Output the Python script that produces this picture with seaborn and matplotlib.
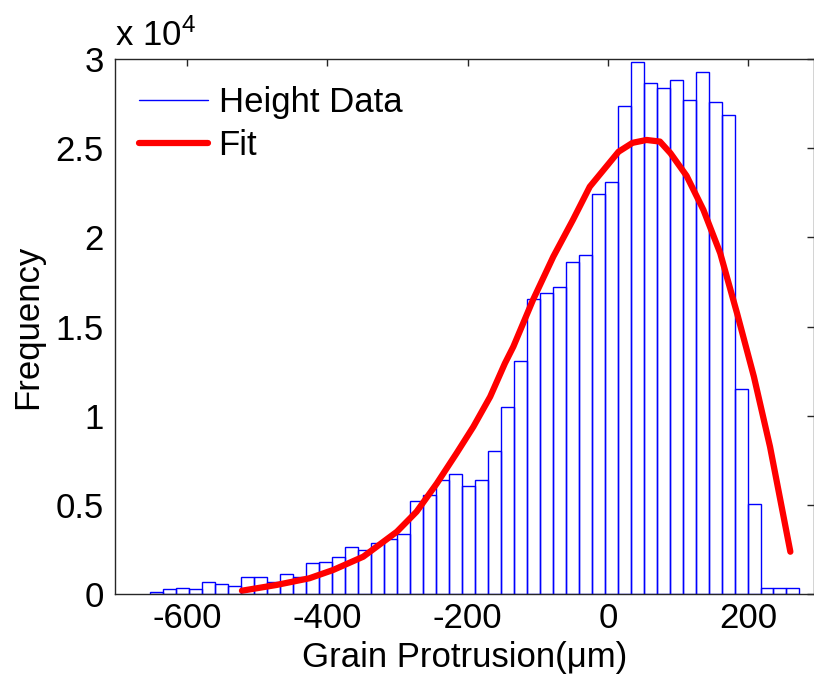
import numpy as np
import pandas as pd
import matplotlib
matplotlib.use("Agg")
import matplotlib.pyplot as plt
from matplotlib.lines import Line2D
from matplotlib.ticker import FuncFormatter
import seaborn as sns

# histogram: 50 equal bins
bin_start = -653.0
bin_width = 18.52
counts = [100, 260, 355, 260, 690, 540, 450, 950, 950, 690,
          1140, 950, 1720, 1795, 2075, 2655, 2470, 2840, 3065, 3345,
          5235, 5550, 6390, 6750, 6060, 6390, 8020, 10500, 13050, 16560,
          16900, 17235, 18620, 19030, 22430, 23120, 27385, 29850, 28670, 28390,
          28825, 27700, 29255, 27570, 26860, 11515, 5050, 355, 355, 355]

# fitted curve, points
fit_x = [-522, -473, -426, -392, -349, -301, -273, -244, -216, -192, -168,
         -147, -135, -107, -78, -50, -26, 15, 35, 55, 74, 89, 112, 136,
         160, 184, 208, 231, 260]
fit_y = [185, 505, 880, 1346, 2092, 3494, 4615, 6206, 7890, 9380, 11065,
         12935, 13870, 16490, 18920, 20980, 22840, 24800, 25300, 25460, 25370,
         24720, 23450, 21540, 19110, 15740, 12190, 8260, 2370]

x_ticks = [-600, -400, -200, 0, 200]
y_ticks = [0, 5000, 10000, 15000, 20000, 25000, 30000]

sns.set_style("white")
plt.rcParams['font.family'] = ['Liberation Sans', 'DejaVu Sans']
plt.rcParams['mathtext.default'] = 'regular'
plt.rcParams['axes.unicode_minus'] = False
plt.rcParams['text.color'] = 'black'
plt.rcParams['axes.labelcolor'] = 'black'

n_bins = len(counts)
edges = list(bin_start + bin_width * np.arange(n_bins + 1))
hist_df = pd.DataFrame({
    'center': [(edges[i] + edges[i + 1]) / 2 for i in range(n_bins)],
    'count': counts,
})

fig = plt.figure(figsize=(8.14, 6.8), dpi=100)
ax = fig.add_axes([115 / 814, 1 - 594 / 680, 698.5 / 814, 535 / 680])

sns.histplot(data=hist_df, x='center', weights='count', bins=edges,
             element='bars', fill=False, color='#0000ff', linewidth=1.0, ax=ax)
sns.lineplot(x=fit_x, y=fit_y, color='#ff0000', linewidth=4.5, ax=ax)

ax.set_xlim(-703, 293)
ax.set_ylim(0, 30000)
ax.set_xticks(x_ticks)
ax.set_yticks(y_ticks)
ax.yaxis.set_major_formatter(FuncFormatter(lambda v, p: f"{v / 1e4:g}"))

fs = 25
ax.tick_params(direction='in', length=5, width=1, colors='#262626',
               labelsize=fs, top=True, right=True, labelcolor='black')
ax.tick_params(axis='x', pad=6)
ax.tick_params(axis='y', pad=8)
for s in ax.spines.values():
    s.set_color('#262626')
    s.set_linewidth(1.0)

ax.set_xlabel('Grain Protrusion(\u03bcm)', fontsize=fs, labelpad=4)
ax.set_ylabel('Frequency', fontsize=fs, labelpad=8)
ax.text(0.0, 1.012, r'x 10$^{4}$', transform=ax.transAxes, fontsize=fs,
        ha='left', va='bottom')

handles = [Line2D([], [], color='#0000ff', linewidth=1.0),
           Line2D([], [], color='#ff0000', linewidth=4.5)]
ax.legend(handles, ['Height Data', 'Fit'], loc='upper left',
          bbox_to_anchor=(0.034, 0.95), frameon=False, fontsize=fs,
          handlelength=2.0, handletextpad=0.3, labelspacing=0.3,
          borderpad=0, borderaxespad=0, labelcolor='black')

fig.savefig('out.png', dpi=100)
